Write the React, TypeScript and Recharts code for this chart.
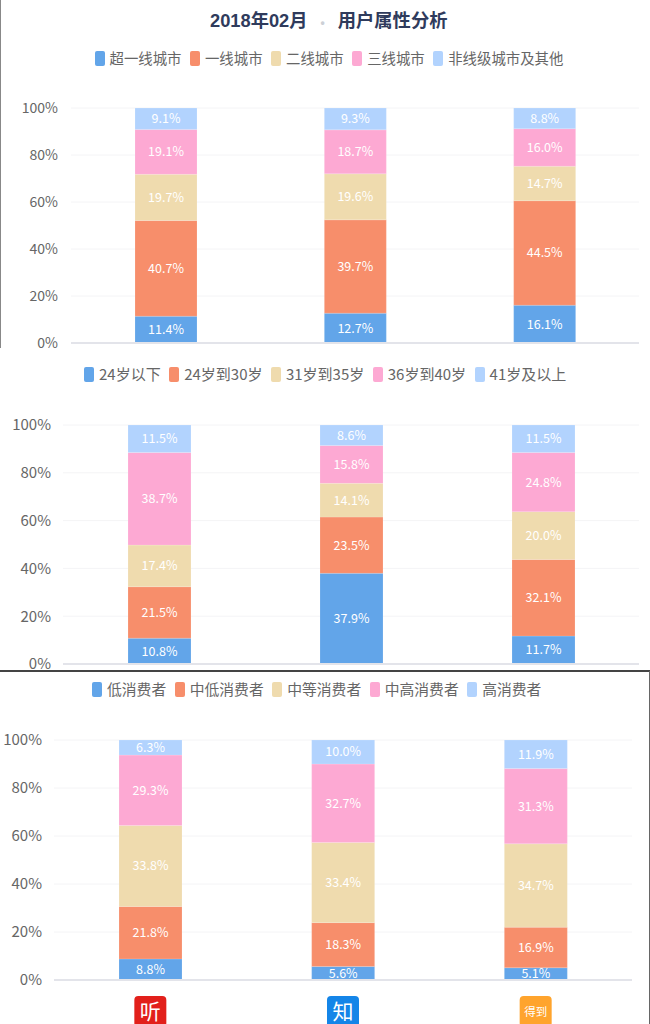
import React from "react";
import { BarChart, Bar, XAxis, YAxis, CartesianGrid, Legend, LabelList } from "recharts";

const FONT = '"Noto Sans CJK SC", "Noto Sans", sans-serif';
const TITLE_FONT = '"Liberation Sans", "Noto Sans CJK SC", sans-serif';
const categories = ["听", "知", "得到"];
const colors = ["#62a5e9", "#f78e6b", "#efdbae", "#fda9d3", "#b2d3fe"];
const yTicks = [0, 0.2, 0.4, 0.6, 0.8, 1];

const cityNames = ["超一线城市", "一线城市", "二线城市", "三线城市", "非线级城市及其他"];
const citySuper = [11.4, 12.7, 16.1];
const cityFirst = [40.7, 39.7, 44.5];
const citySecond = [19.7, 19.6, 14.7];
const cityThird = [19.1, 18.7, 16.0];
const cityOther = [9.1, 9.3, 8.8];

const ageNames = ["24岁以下", "24岁到30岁", "31岁到35岁", "36岁到40岁", "41岁及以上"];
const ageA = [10.8, 37.9, 11.7];
const ageB = [21.5, 23.5, 32.1];
const ageC = [17.4, 14.1, 20.0];
const ageD = [38.7, 15.8, 24.8];
const ageE = [11.5, 8.6, 11.5];

const spendNames = ["低消费者", "中低消费者", "中等消费者", "中高消费者", "高消费者"];
const spendA = [8.8, 5.6, 5.1];
const spendB = [21.8, 18.3, 16.9];
const spendC = [33.8, 33.4, 34.7];
const spendD = [29.3, 32.7, 31.3];
const spendE = [6.3, 10.0, 11.9];

const iconColors: Record<string, string> = { "听": "#e2201b", "知": "#1485e8", "得到": "#ffa42d" };

const makeRows = (names: string[], series: number[][]) =>
  categories.map((c, i) => {
    const row: Record<string, string | number> = { category: c };
    names.forEach((n, j) => {
      row[n] = series[j][i];
    });
    return row;
  });

const IconTick = (props: any) => {
  const { x, y, payload } = props;
  const v = payload.value as string;
  return (
    <g transform={`translate(${x},${y})`}>
      <rect x={-16} y={8} width={32} height={31} rx={4} fill={iconColors[v]} />
      <text
        x={0}
        y={23.5}
        dy="0.36em"
        textAnchor="middle"
        fill="#fff"
        fontSize={v.length > 1 ? 11.5 : 21}
        fontFamily={FONT}
      >
        {v}
      </text>
    </g>
  );
};

const LegendRow = (props: any) => (
  <div style={{ display: "flex", alignItems: "center", fontFamily: FONT, fontSize: props.fontSize, color: "#666", height: 15, whiteSpace: "nowrap" }}>
    {(props.payload || []).map((e: any) => (
      <div key={e.value} style={{ display: "flex", alignItems: "center", marginRight: 8.5 }}>
        <span style={{ display: "inline-block", width: 10, height: 15, borderRadius: 2, background: e.color, marginRight: 5 }} />
        <span style={{ position: "relative", top: -1 }}>{e.value}</span>
      </div>
    ))}
  </div>
);

type PanelProps = {
  top: number;
  height: number;
  plotLeft: number;
  plotRight: number;
  plotTop: number;
  plotBottom: number;
  legendLeft: number;
  legendTop: number;
  legendFont: number;
  yFont: number;
  barSize: number;
  tickMargin: number;
  names: string[];
  series: number[][];
  icons?: boolean;
};

const Panel = ({ top, height, plotLeft, plotRight, plotTop, plotBottom, legendLeft, legendTop, legendFont, yFont, barSize, tickMargin, names, series, icons }: PanelProps) => (
  <div style={{ position: "absolute", left: 0, top, width: 650, height }}>
    <BarChart
      width={650}
      height={height}
      data={makeRows(names, series)}
      stackOffset="expand"
      margin={{ top: plotTop, left: 0, right: 650 - plotRight, bottom: plotBottom }}
    >
      <CartesianGrid horizontal vertical={false} stroke="#f4f4f6" />
      <XAxis
        dataKey="category"
        axisLine={{ stroke: "#e3e4ea", strokeWidth: 2 }}
        tickLine={false}
        height={icons ? 44 : 1}
        tick={icons ? <IconTick /> : false}
        interval={0}
      />
      <YAxis
        width={plotLeft}
        domain={[0, 1]}
        ticks={yTicks}
        interval={0}
        axisLine={false}
        tickLine={false}
        tickMargin={tickMargin}
        tickSize={0}
        tick={{ fill: "#666", fontSize: yFont, fontFamily: FONT }}
        tickFormatter={(v: number) => `${Math.round(v * 100)}%`}
      />
      <Legend
        verticalAlign="middle"
        layout="horizontal"
        itemSorter={null}
        content={<LegendRow fontSize={legendFont} />}
        wrapperStyle={{ top: legendTop, left: legendLeft, width: 600, height: 15, bottom: "auto", right: "auto" }}
      />
      {names.map((n, i) => (
        <Bar key={n} dataKey={n} stackId="a" fill={colors[i]} stroke="rgba(255,255,255,0.15)" barSize={barSize} isAnimationActive={false}>
          <LabelList
            dataKey={n}
            position="center"
            fill="#fff"
            fontSize={12.5}
            fontFamily={FONT}
            formatter={(v: number) => `${v.toFixed(1)}%`}
          />
        </Bar>
      ))}
    </BarChart>
  </div>
);

export default function App() {
  return (
    <div style={{ position: "absolute", left: 0, top: 0, width: 650, height: 1024, background: "#fff", overflow: "hidden" }}>
      <Panel
        top={0}
        height={360}
        plotLeft={71}
        plotRight={639}
        plotTop={108}
        plotBottom={16}
        legendLeft={94.5}
        legendTop={51}
        legendFont={14.4}
        yFont={14}
        barSize={62}
        tickMargin={13}
        names={cityNames}
        series={[citySuper, cityFirst, citySecond, cityThird, cityOther]}
      />
      <Panel
        top={348}
        height={335}
        plotLeft={63}
        plotRight={639}
        plotTop={77}
        plotBottom={18}
        legendLeft={84}
        legendTop={19}
        legendFont={15}
        yFont={15}
        barSize={63}
        tickMargin={12}
        names={ageNames}
        series={[ageA, ageB, ageC, ageD, ageE]}
      />
      <Panel
        top={672}
        height={352}
        plotLeft={54}
        plotRight={632}
        plotTop={68}
        plotBottom={0}
        legendLeft={92}
        legendTop={10}
        legendFont={14.8}
        yFont={15}
        barSize={63}
        tickMargin={12}
        names={spendNames}
        series={[spendA, spendB, spendC, spendD, spendE]}
        icons
      />
      <div
        style={{
          position: "absolute",
          left: 210,
          top: 10,
          height: 22,
          lineHeight: "22px",
          fontFamily: TITLE_FONT,
          fontWeight: 700,
          fontSize: 18.3,
          color: "#2f3b5c",
          whiteSpace: "nowrap",
        }}
      >
        <span>2018年02月</span>
        <span style={{ color: "#ccd0d6", margin: "0 13px", fontSize: 12 }}>•</span>
        <span>用户属性分析</span>
      </div>
      <div style={{ position: "absolute", left: 0, top: 0, width: 1, height: 348, background: "#888" }} />
      <div style={{ position: "absolute", left: 0, top: 670, width: 650, height: 2, background: "#444" }} />
      <div style={{ position: "absolute", left: 649, top: 671, width: 1, height: 353, background: "#666" }} />
    </div>
  );
}
